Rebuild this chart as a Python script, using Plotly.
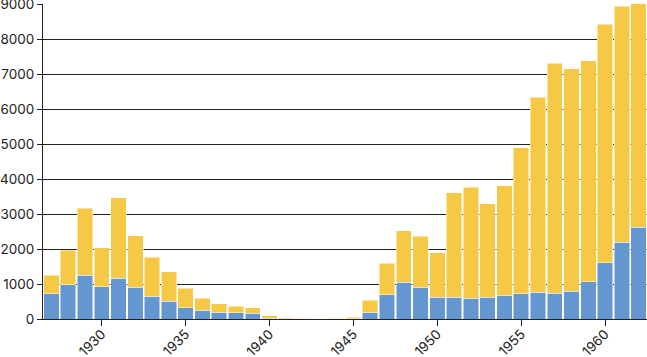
import plotly.graph_objects as go

years = list(range(1927, 1963))
blue = [724, 982, 1249, 925, 1163, 915, 658, 515, 315, 245, 200, 181, 162, 20,
        5, 3, 2, 3, 10, 200, 695, 1057, 910, 620, 629, 600, 629, 677, 724, 772,
        734, 801, 1068, 1611, 2202, 2622]
yellow = [525, 982, 1916, 1115, 2307, 1468, 1106, 839, 562, 346, 239, 181, 162, 66,
          24, 12, 8, 12, 38, 343, 895, 1463, 1455, 1277, 2984, 3175, 2669, 3136, 4176, 5567,
          6578, 6358, 6320, 6826, 6740, 6420]
x_ticks = [1930, 1935, 1940, 1945, 1950, 1955, 1960]

BLUE = "rgb(100,151,208)"
YELLOW = "rgb(245,201,69)"
font = "Inter, Lato, 'Noto Sans', sans-serif"

fig = go.Figure()
fig.add_trace(go.Bar(x=years, y=blue, marker=dict(color=BLUE, line=dict(color="rgba(255,255,255,0.8)", width=0.6)),
                     showlegend=False, hoverinfo="x+y"))
fig.add_trace(go.Bar(x=years, y=yellow, marker=dict(color=YELLOW, line=dict(color="rgba(255,255,255,0.8)", width=0.6)),
                     showlegend=False, hoverinfo="x+y"))

fig.update_layout(
    barmode="stack",
    bargap=0.08,
    width=647, height=357,
    margin=dict(l=43, r=0, t=4, b=38),
    paper_bgcolor="white", plot_bgcolor="white",
    font=dict(family=font, size=13.5, color="#222"),
    xaxis=dict(
        range=[1926.5, 1962.5], automargin=False,
        tickmode="array", tickvals=x_ticks, ticktext=[str(v) for v in x_ticks],
        tickangle=-45, ticks="outside", ticklen=6, tickcolor="#222", tickwidth=1,
        showgrid=False, showline=True, linecolor="#222", linewidth=1,
        zeroline=False, fixedrange=True, ticklabeloverflow="allow",
        ticklabelstandoff=-5,
    ),
    yaxis=dict(
        range=[0, 9012], automargin=False, tickmode="linear", tick0=0, dtick=1000,
        showgrid=True, gridcolor="#222", gridwidth=1,
        showline=True, linecolor="#222", linewidth=1,
        zeroline=False, ticks="outside", ticklen=5, tickcolor="#222",
        fixedrange=True, ticklabeloverflow="allow",
    ),
)

fig.write_html("out.html", config={"displayModeBar": False},
               post_script="document.body.style.margin='0';document.body.style.overflow='hidden';")
